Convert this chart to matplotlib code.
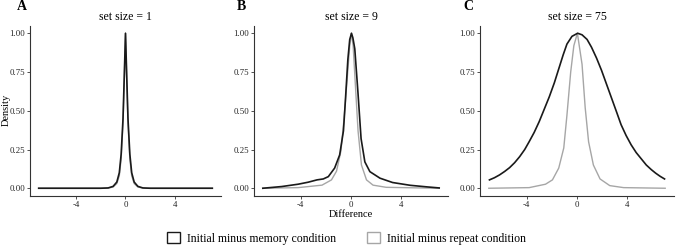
import matplotlib.pyplot as plt
from matplotlib.patches import Patch

plt.rcParams['font.family'] = ['Liberation Serif', 'DejaVu Serif']

# values (density scaled so the peak = 1)
titles = ["set size = 1", "set size = 9", "set size = 75"]
panel_tags = ["A", "B", "C"]
legend_labels = ["Initial minus memory condition", "Initial minus repeat condition"]
x_ticks = [-4, 0, 4]
y_ticks = [0.00, 0.25, 0.50, 0.75, 1.00]

# set size = 1
x_a = [-7, -2, -1.4, -1.0, -0.7, -0.5, -0.35, -0.2, -0.1, 0, 0.1, 0.2, 0.35, 0.5, 0.7, 1.0, 1.4, 2, 7]
memory_a = [0, 0, 0.002, 0.012, 0.04, 0.1, 0.22, 0.45, 0.72, 1.0, 0.72, 0.45, 0.22, 0.1, 0.04, 0.012, 0.002, 0, 0]
repeat_a = [0, 0, 0.001, 0.008, 0.03, 0.08, 0.19, 0.42, 0.7, 1.0, 0.7, 0.42, 0.19, 0.08, 0.03, 0.008, 0.001, 0, 0]

# set size = 9
x_b_mem = [-7, -5.5, -4.2, -3.4, -2.7, -2.2, -1.8, -1.3, -0.9, -0.6, -0.45, -0.25, -0.1, 0.04,
           0.15, 0.3, 0.55, 0.8, 1.1, 1.5, 2.3, 3.3, 4.7, 6.0, 7.0]
memory_b = [0, 0.011, 0.026, 0.039, 0.054, 0.06, 0.075, 0.13, 0.215, 0.37, 0.56, 0.83, 0.96, 1.0,
            0.97, 0.9, 0.62, 0.32, 0.17, 0.107, 0.065, 0.037, 0.019, 0.009, 0.002]
x_b_rep = [-7, -4.2, -2.3, -1.55, -1.15, -0.8, -0.55, -0.3, -0.1, 0.02, 0.17, 0.38, 0.56, 0.83,
           1.23, 1.75, 2.8, 7]
repeat_b = [0, 0.004, 0.02, 0.054, 0.11, 0.24, 0.45, 0.71, 0.92, 1.0, 0.92, 0.62, 0.37, 0.15,
            0.054, 0.02, 0.006, 0]

# set size = 75
x_c_mem = [-6.95, -6.55, -6.15, -5.75, -5.35, -4.95, -4.55, -4.15, -3.8, -3.4, -3.0, -2.6,
           -2.2, -1.8, -1.45, -1.1, -0.8, -0.4, 0.05, 0.4, 0.8, 1.15, 1.55, 1.95, 2.35, 2.75,
           3.15, 3.5, 3.9, 4.3, 4.7, 5.1, 5.5, 5.9, 6.25, 6.6, 6.95]
memory_c = [0.054, 0.068, 0.086, 0.108, 0.133, 0.165, 0.204, 0.25, 0.30, 0.36, 0.43, 0.51,
            0.59, 0.68, 0.77, 0.86, 0.93, 0.98, 1.0, 0.99, 0.96, 0.91, 0.84, 0.76, 0.67, 0.58,
            0.49, 0.41, 0.34, 0.28, 0.23, 0.19, 0.15, 0.12, 0.097, 0.077, 0.06]
x_c_rep = [-7, -3.8, -2.5, -1.95, -1.45, -1.05, -0.8, -0.5, -0.25, 0.03, 0.4, 0.65, 0.92,
           1.3, 1.83, 2.6, 3.7, 7]
repeat_c = [0, 0.004, 0.026, 0.054, 0.13, 0.26, 0.47, 0.75, 0.92, 1.0, 0.8, 0.52, 0.3,
            0.15, 0.06, 0.017, 0.004, 0]

panels = [
    (x_a, memory_a, x_a, repeat_a),
    (x_b_mem, memory_b, x_b_rep, repeat_b),
    (x_c_mem, memory_c, x_c_rep, repeat_c),
]

W, H = 676, 249
fig = plt.figure(figsize=(W / 100, H / 100), dpi=100)

# axes boxes in pixels: left, right
boxes = [(30, 221), (254, 448), (480, 674)]
tag_x = [17, 237, 463]
top_px, bottom_px = 25.5, 196

mem_color = "#1a1a1a"
rep_color = "#a6a6a6"

for i, (xm, ym, xr, yr) in enumerate(panels):
    l, r = boxes[i]
    ax = fig.add_axes([l / W, (H - bottom_px) / H, (r - l) / W, (bottom_px - top_px) / H])
    ax.plot(xr, yr, color=rep_color, lw=1.0)
    ax.plot(xm, ym, color=mem_color, lw=1.2)
    ax.set_xlim(-7.7, 7.7)
    ax.set_ylim(-0.05, 1.05)
    ax.set_xticks(x_ticks)
    ax.set_xticklabels([str(t) for t in x_ticks])
    ax.set_yticks(y_ticks)
    ax.set_yticklabels([f"{t:.2f}" for t in y_ticks])
    for s in ["top", "right"]:
        ax.spines[s].set_visible(False)
    for s in ["left", "bottom"]:
        ax.spines[s].set_color("#333333")
        ax.spines[s].set_linewidth(0.8)
    ax.tick_params(length=2, width=0.6, color="#333333", labelsize=6.3, pad=1.5,
                   labelcolor="#222222")
    ax.set_title(titles[i], fontsize=8.5, pad=4)
    if i == 1:
        ax.set_xlabel("Difference", fontsize=7.5, labelpad=0.5)
    fig.text(tag_x[i] / W, 1 - 7 / H, panel_tags[i],
             fontsize=10, fontweight="bold", ha="left", va="center")

fig.text(6 / W, 1 - 110 / H, "Density", rotation=90, fontsize=7.5,
         ha="center", va="center")

handles = [Patch(facecolor="white", edgecolor=mem_color, linewidth=1.0),
           Patch(facecolor="white", edgecolor=rep_color, linewidth=1.0)]
fig.legend(handles, legend_labels, loc="center", bbox_to_anchor=(0.513, 1 - 238.5 / H),
           ncol=2, frameon=False, fontsize=8.5, handlelength=1.1, handleheight=1.1,
           columnspacing=2.6, handletextpad=0.6)

fig.savefig("out.png", dpi=100)
